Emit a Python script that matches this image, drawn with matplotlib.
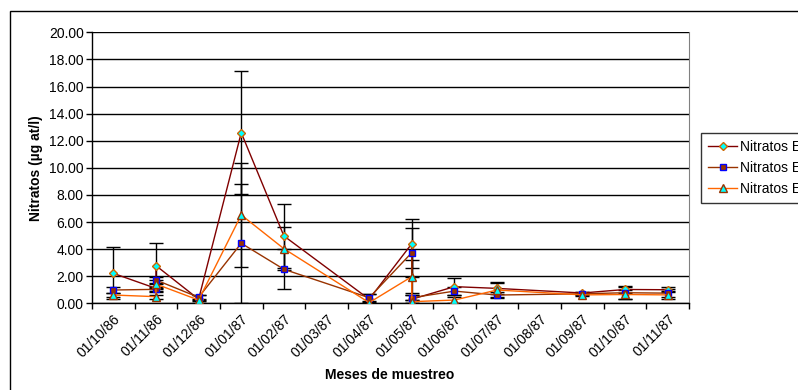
import matplotlib
matplotlib.use("Agg")
import matplotlib.pyplot as plt
from matplotlib.patches import Rectangle
from matplotlib.transforms import ScaledTranslation
import numpy as np

plt.rcParams['font.family'] = ['Liberation Sans', 'DejaVu Sans']

# month categories of the date axis
months = ["01/10/86", "01/11/86", "01/12/86", "01/01/87", "01/02/87", "01/03/87", "01/04/87",
          "01/05/87", "01/06/87", "01/07/87", "01/08/87", "01/09/87", "01/10/87", "01/11/87"]

# month of each sampling (Excel puts samples of the same month on the same spot)
sample_month = ["01/10/86", "01/11/86", "01/11/86", "01/12/86", "01/01/87", "01/02/87", "01/04/87",
                "01/05/87", "01/05/87", "01/06/87", "01/07/87", "01/09/87", "01/10/87", "01/11/87"]

e1 = [2.21, 1.10, 2.78, 0.30, 12.59, 4.97, 0.30, 4.40, 0.30, 1.23, 1.10, 0.76, 1.02, 1.00]
e1_err = [1.92, 0.30, 1.69, 0.30, 4.55, 2.38, 0.40, 1.82, 0.30, 0.65, 0.45, 0.10, 0.25, 0.20]

e2 = [0.98, 1.03, 1.72, 0.44, 4.43, 2.51, 0.41, 3.74, 0.41, 0.90, 0.61, 0.70, 0.78, 0.75]
e2_err = [0.20, 0.15, 0.20, 0.20, 4.40, 1.48, 0.30, 1.80, 0.20, 0.30, 0.20, 0.10, 0.45, 0.30]

e3 = [0.61, 0.49, 1.42, 0.24, 6.52, 4.03, 0.05, 1.97, 0.12, 0.24, 0.98, 0.62, 0.65, 0.62]
e3_err = [0.15, 0.15, 0.30, 0.10, 3.82, 1.58, 0.10, 1.20, 0.10, 0.20, 0.50, 0.10, 0.30, 0.30]

labels = ["Nitratos E 1", "Nitratos E 2", "Nitratos E 3"]

x = np.array([months.index(m) for m in sample_month]) + 0.5

fig = plt.figure(figsize=(7.98, 3.90), dpi=100)
ax = fig.add_axes([92 / 798, 1 - 303.3 / 390, (689 - 92) / 798, (303.3 - 32.3) / 390])

# chart area border
fig.patches.append(Rectangle((10 / 798, -0.1), 1.2, 1.1 - 11 / 390, transform=fig.transFigure,
                             fill=False, edgecolor='black', linewidth=1))

styles = [
    dict(color='#800000', marker='D', markerfacecolor='#00FFFF', markeredgecolor='#CC6600', markersize=4.5),
    dict(color='#993300', marker='s', markerfacecolor='#993300', markeredgecolor='#0000FF', markersize=5),
    dict(color='#FF6600', marker='^', markerfacecolor='#00FFFF', markeredgecolor='#993300', markersize=5.5),
]

for vals, errs, st, lab in zip([e1, e2, e3], [e1_err, e2_err, e3_err], styles, labels):
    ax.errorbar(x, vals, yerr=errs, fmt='none', ecolor='black', elinewidth=1, capsize=5,
                capthick=1, zorder=3)
    ax.plot(x, vals, linewidth=1, markeredgewidth=1, label=lab, zorder=4, **st)

ax.set_ylim(0, 20)
ax.set_xlim(0, len(months))
ax.set_yticks(np.arange(0, 21, 2))
ax.set_yticklabels(["%.2f" % v for v in np.arange(0, 21, 2)], fontsize=10)
ax.yaxis.grid(True, color='black', linewidth=1)
ax.set_axisbelow(True)

ax.set_xticks(np.arange(len(months) + 1))
ax.set_xticklabels([])
ax.set_xticks(np.arange(len(months)) + 0.5, minor=True)
ax.set_xticklabels(months, minor=True, rotation=45, ha='right', va='top',
                   rotation_mode='anchor', fontsize=10)
shift = ScaledTranslation(-4 / 100, 0, fig.dpi_scale_trans)
for t in ax.get_xticklabels(minor=True):
    t.set_transform(t.get_transform() + shift)
ax.tick_params(axis='x', which='minor', length=0, pad=6)
ax.tick_params(axis='both', which='major', direction='out', length=4, width=1, color='black')
ax.tick_params(axis='y', pad=2)

ax.spines['top'].set_visible(False)
ax.spines['right'].set_color('#808080')
ax.spines['left'].set_linewidth(1)
ax.spines['bottom'].set_linewidth(1)

ax.set_ylabel("Nitratos (µg at/l)", fontsize=10, fontweight='bold', labelpad=4)
fig.text(390 / 798, 1 - 375 / 390, "Meses de muestreo", fontsize=10, fontweight='bold',
         ha='center', va='center')

leg = fig.legend(loc='upper left', bbox_to_anchor=(701 / 798, 1 - 133 / 390), fontsize=10,
                 frameon=True, fancybox=False, edgecolor='black', borderaxespad=0,
                 handlelength=2.1, handletextpad=0.2, labelspacing=0.5, borderpad=0.5)
leg.get_frame().set_linewidth(1)

fig.savefig("out.png", dpi=100)
